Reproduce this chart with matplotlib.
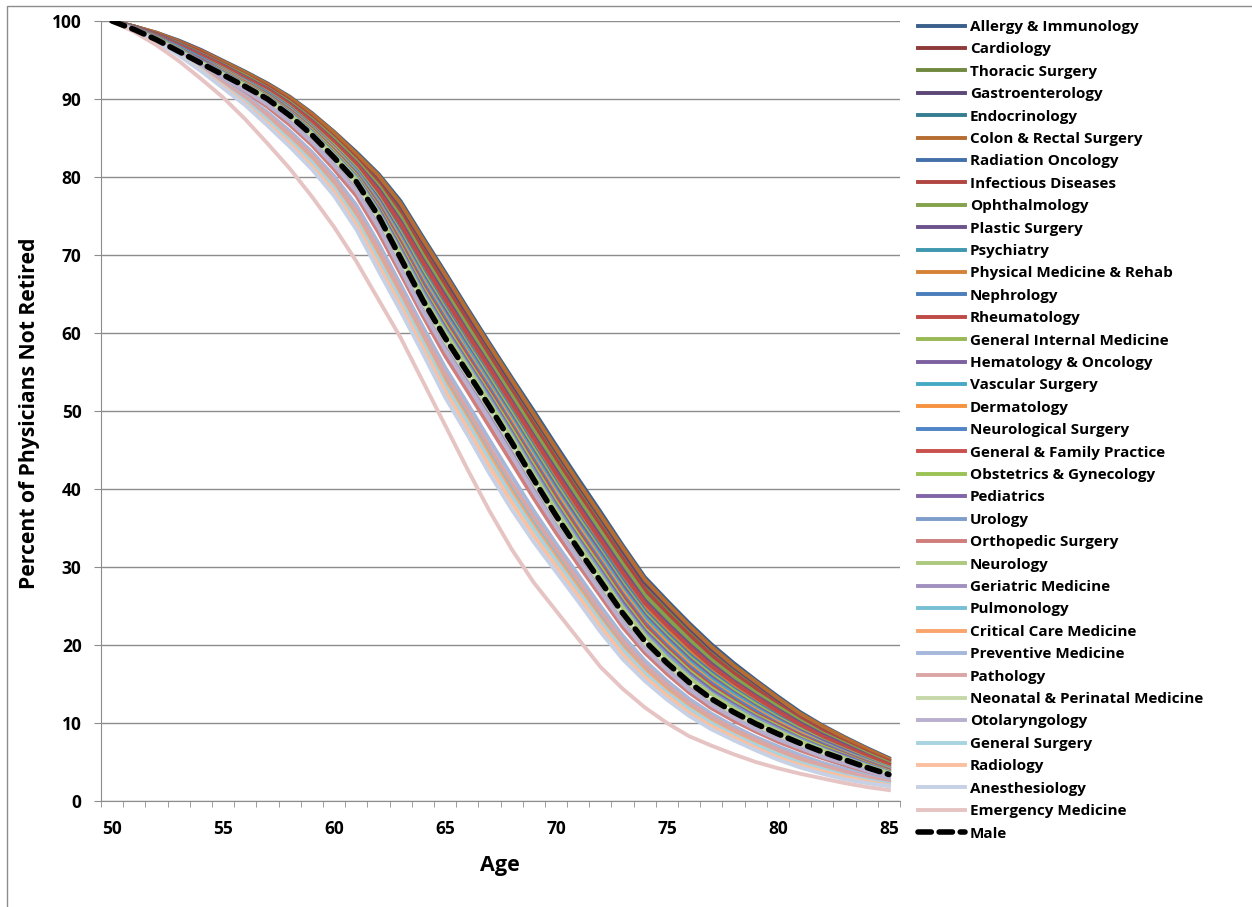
import matplotlib
matplotlib.use('Agg')
import matplotlib.pyplot as plt
from matplotlib.patches import Rectangle

plt.rcParams['font.family'] = ['Open Sans', 'DejaVu Sans']
plt.rcParams['font.weight'] = 'bold'

ages = list(range(50, 86))

# percent not retired, ages 50..85
allergy = [100, 99.3, 98.5, 97.5, 96.3, 94.9, 93.5, 92.0, 90.3, 88.2, 85.8, 83.2, 80.4, 76.9, 72.3, 67.8, 63.2, 58.7, 54.3, 50.0, 45.6, 41.3, 37.1, 32.8, 28.7, 25.7, 22.8, 20.1, 17.7, 15.5, 13.4, 11.4, 9.7, 8.2, 6.8, 5.5]
colon = [100, 99.3, 98.5, 97.4, 96.2, 94.8, 93.4, 91.9, 90.2, 88.1, 85.7, 83.0, 80.2, 76.6, 72.0, 67.5, 62.9, 58.4, 54.0, 49.6, 45.2, 40.9, 36.7, 32.5, 28.4, 25.4, 22.5, 19.8, 17.4, 15.3, 13.2, 11.2, 9.6, 8.1, 6.7, 5.4]
gastro = [100, 99.3, 98.4, 97.4, 96.2, 94.8, 93.3, 91.8, 90.1, 88.0, 85.5, 82.9, 80.0, 76.3, 71.7, 67.1, 62.5, 58.1, 53.6, 49.3, 44.9, 40.6, 36.4, 32.1, 28.0, 25.1, 22.2, 19.5, 17.2, 15.1, 13.0, 11.1, 9.4, 8.0, 6.6, 5.3]
cardiology = [100, 99.3, 98.4, 97.3, 96.1, 94.7, 93.3, 91.8, 90.0, 87.9, 85.4, 82.7, 79.8, 76.0, 71.3, 66.8, 62.2, 57.7, 53.3, 48.9, 44.5, 40.2, 36.0, 31.8, 27.7, 24.7, 21.9, 19.3, 16.9, 14.8, 12.8, 10.9, 9.3, 7.9, 6.5, 5.2]
thoracic = [100, 99.2, 98.4, 97.3, 96.0, 94.6, 93.2, 91.7, 89.9, 87.8, 85.3, 82.6, 79.5, 75.7, 71.0, 66.5, 61.9, 57.4, 53.0, 48.6, 44.2, 39.9, 35.7, 31.4, 27.4, 24.4, 21.6, 19.0, 16.7, 14.6, 12.6, 10.8, 9.2, 7.7, 6.4, 5.2]
infectious = [100, 99.2, 98.3, 97.2, 96.0, 94.5, 93.1, 91.6, 89.8, 87.6, 85.1, 82.4, 79.3, 75.4, 70.7, 66.1, 61.6, 57.1, 52.6, 48.2, 43.8, 39.5, 35.3, 31.1, 27.1, 24.1, 21.3, 18.7, 16.4, 14.4, 12.4, 10.6, 9.0, 7.6, 6.3, 5.1]
radiation = [100, 99.2, 98.3, 97.2, 95.9, 94.5, 93.0, 91.5, 89.7, 87.5, 85.0, 82.3, 79.1, 75.1, 70.4, 65.8, 61.2, 56.8, 52.3, 47.9, 43.4, 39.1, 35.0, 30.7, 26.7, 23.8, 21.0, 18.4, 16.2, 14.2, 12.2, 10.4, 8.9, 7.5, 6.2, 5.0]
ophthalmology = [100, 99.2, 98.2, 97.1, 95.8, 94.4, 93.0, 91.4, 89.6, 87.4, 84.9, 82.1, 78.9, 74.9, 70.0, 65.4, 60.9, 56.4, 52.0, 47.5, 43.1, 38.8, 34.6, 30.4, 26.4, 23.5, 20.7, 18.1, 15.9, 13.9, 12.1, 10.3, 8.7, 7.4, 6.1, 4.9]
endocrinology = [100, 99.2, 98.2, 97.1, 95.8, 94.3, 92.9, 91.4, 89.5, 87.3, 84.7, 82.0, 78.7, 74.6, 69.7, 65.1, 60.6, 56.1, 51.6, 47.2, 42.7, 38.4, 34.3, 30.0, 26.1, 23.1, 20.4, 17.9, 15.7, 13.7, 11.9, 10.1, 8.6, 7.3, 6.0, 4.8]
plastic = [100, 99.2, 98.2, 97.0, 95.7, 94.3, 92.8, 91.3, 89.4, 87.2, 84.6, 81.8, 78.5, 74.3, 69.4, 64.8, 60.2, 55.8, 51.3, 46.8, 42.4, 38.1, 33.9, 29.7, 25.7, 22.8, 20.1, 17.6, 15.4, 13.5, 11.7, 10.0, 8.5, 7.2, 5.9, 4.7]
rheumatology = [100, 99.1, 98.1, 96.9, 95.6, 94.2, 92.7, 91.2, 89.3, 87.1, 84.5, 81.7, 78.2, 74.0, 69.1, 64.4, 59.9, 55.5, 51.0, 46.5, 42.0, 37.7, 33.5, 29.3, 25.4, 22.5, 19.8, 17.3, 15.2, 13.3, 11.5, 9.8, 8.3, 7.0, 5.8, 4.7]
psychiatry = [100, 99.1, 98.1, 96.9, 95.6, 94.1, 92.7, 91.1, 89.2, 87.0, 84.3, 81.5, 78.0, 73.7, 68.7, 64.1, 59.6, 55.1, 50.6, 46.1, 41.6, 37.3, 33.2, 29.0, 25.1, 22.2, 19.5, 17.0, 14.9, 13.0, 11.3, 9.6, 8.2, 6.9, 5.7, 4.6]
pmr = [100, 99.1, 98.1, 96.8, 95.5, 94.0, 92.6, 91.0, 89.1, 86.9, 84.2, 81.4, 77.8, 73.4, 68.4, 63.8, 59.3, 54.8, 50.3, 45.8, 41.3, 37.0, 32.8, 28.6, 24.8, 21.9, 19.2, 16.7, 14.7, 12.8, 11.1, 9.5, 8.1, 6.8, 5.6, 4.5]
nephrology = [100, 99.1, 98.0, 96.8, 95.4, 94.0, 92.5, 91.0, 89.1, 86.7, 84.1, 81.2, 77.6, 73.1, 68.1, 63.4, 58.9, 54.5, 50.0, 45.4, 40.9, 36.6, 32.5, 28.3, 24.4, 21.5, 18.8, 16.5, 14.4, 12.6, 10.9, 9.3, 7.9, 6.7, 5.5, 4.4]
gim = [100, 99.1, 98.0, 96.7, 95.3, 93.9, 92.4, 90.9, 89.0, 86.6, 84.0, 81.1, 77.4, 72.8, 67.8, 63.1, 58.6, 54.2, 49.7, 45.1, 40.6, 36.3, 32.1, 27.9, 24.1, 21.2, 18.5, 16.2, 14.2, 12.4, 10.7, 9.2, 7.8, 6.6, 5.4, 4.3]
hemonc = [100, 99.1, 98.0, 96.7, 95.3, 93.8, 92.4, 90.8, 88.9, 86.5, 83.8, 80.9, 77.2, 72.5, 67.4, 62.8, 58.3, 53.8, 49.3, 44.7, 40.2, 35.9, 31.8, 27.6, 23.8, 20.9, 18.2, 15.9, 13.9, 12.1, 10.5, 9.0, 7.7, 6.5, 5.3, 4.2]
vascular = [100, 99.0, 97.9, 96.6, 95.2, 93.7, 92.3, 90.7, 88.8, 86.4, 83.7, 80.8, 76.9, 72.2, 67.1, 62.4, 58.0, 53.5, 49.0, 44.4, 39.8, 35.5, 31.4, 27.2, 23.5, 20.6, 17.9, 15.6, 13.7, 11.9, 10.3, 8.8, 7.5, 6.3, 5.2, 4.2]
dermatology = [100, 99.0, 97.9, 96.5, 95.1, 93.7, 92.2, 90.6, 88.7, 86.3, 83.6, 80.6, 76.7, 71.9, 66.8, 62.1, 57.6, 53.2, 48.7, 44.0, 39.5, 35.2, 31.0, 26.9, 23.1, 20.3, 17.6, 15.3, 13.4, 11.7, 10.1, 8.7, 7.4, 6.2, 5.1, 4.1]
neurosurgery = [100, 99.0, 97.9, 96.5, 95.1, 93.6, 92.1, 90.6, 88.6, 86.2, 83.4, 80.5, 76.5, 71.6, 66.5, 61.8, 57.3, 52.9, 48.3, 43.7, 39.1, 34.8, 30.7, 26.5, 22.8, 19.9, 17.3, 15.1, 13.2, 11.5, 9.9, 8.5, 7.3, 6.1, 5.0, 4.0]
family = [100, 99.0, 97.8, 96.4, 95.0, 93.5, 92.1, 90.5, 88.5, 86.1, 83.3, 80.3, 76.3, 71.4, 66.1, 61.4, 57.0, 52.5, 48.0, 43.3, 38.8, 34.5, 30.3, 26.2, 22.5, 19.6, 17.0, 14.8, 12.9, 11.2, 9.8, 8.4, 7.1, 6.0, 4.9, 3.9]
obgyn = [100, 99.0, 97.8, 96.4, 94.9, 93.5, 92.0, 90.4, 88.4, 86.0, 83.2, 80.2, 76.1, 71.1, 65.8, 61.1, 56.6, 52.2, 47.7, 43.0, 38.4, 34.1, 30.0, 25.8, 22.1, 19.3, 16.7, 14.5, 12.7, 11.0, 9.6, 8.2, 7.0, 5.9, 4.8, 3.8]
pediatrics = [100, 99.0, 97.7, 96.3, 94.9, 93.4, 91.9, 90.3, 88.3, 85.8, 83.0, 80.0, 75.9, 70.8, 65.5, 60.7, 56.3, 51.9, 47.3, 42.6, 38.0, 33.7, 29.6, 25.5, 21.8, 19.0, 16.4, 14.2, 12.4, 10.8, 9.4, 8.0, 6.8, 5.8, 4.7, 3.7]
urology = [100, 98.9, 97.7, 96.3, 94.8, 93.3, 91.8, 90.2, 88.2, 85.7, 82.9, 79.9, 75.6, 70.5, 65.2, 60.4, 56.0, 51.6, 47.0, 42.3, 37.7, 33.4, 29.3, 25.1, 21.5, 18.7, 16.1, 13.9, 12.2, 10.6, 9.2, 7.9, 6.7, 5.6, 4.6, 3.7]
orthopedic = [100, 98.9, 97.5, 96.0, 94.3, 92.6, 90.9, 89.0, 86.7, 84.1, 81.0, 77.6, 72.9, 67.6, 62.2, 57.1, 52.6, 48.0, 43.4, 38.8, 34.4, 30.3, 26.3, 22.3, 19.0, 16.3, 13.9, 11.9, 10.3, 8.9, 7.6, 6.5, 5.5, 4.6, 3.7, 3.0]
neurology = [100, 98.9, 97.7, 96.2, 94.7, 93.2, 91.8, 90.2, 88.1, 85.6, 82.8, 79.7, 75.4, 70.2, 64.8, 60.1, 55.7, 51.2, 46.7, 41.9, 37.3, 33.0, 28.9, 24.8, 21.2, 18.3, 15.8, 13.7, 11.9, 10.3, 9.0, 7.7, 6.6, 5.5, 4.5, 3.6]
geriatric = [100, 98.9, 97.6, 96.1, 94.5, 92.9, 91.4, 89.7, 87.5, 85.0, 82.0, 78.8, 74.3, 68.9, 63.5, 58.6, 54.2, 49.7, 45.1, 40.4, 35.9, 31.6, 27.6, 23.5, 20.0, 17.2, 14.8, 12.7, 11.0, 9.6, 8.3, 7.1, 6.0, 5.1, 4.1, 3.3]
pulmonology = [100, 98.8, 97.5, 95.8, 93.9, 91.9, 89.9, 87.6, 85.1, 82.3, 79.1, 75.1, 70.1, 64.8, 59.4, 54.1, 49.4, 44.6, 40.0, 35.6, 31.6, 27.6, 23.7, 20.0, 16.9, 14.4, 12.2, 10.4, 8.9, 7.5, 6.3, 5.2, 4.3, 3.6, 2.9, 2.4]
critical_care = [100, 98.8, 97.5, 95.7, 93.9, 91.8, 89.8, 87.5, 84.9, 82.1, 78.8, 74.8, 69.8, 64.5, 59.1, 53.7, 49.0, 44.2, 39.6, 35.2, 31.2, 27.3, 23.3, 19.7, 16.7, 14.2, 12.0, 10.2, 8.7, 7.4, 6.1, 5.1, 4.2, 3.4, 2.8, 2.3]
preventive = [100, 98.9, 97.5, 95.9, 94.1, 92.3, 90.4, 88.3, 85.9, 83.2, 80.1, 76.4, 71.5, 66.2, 60.8, 55.6, 51.0, 46.3, 41.7, 37.2, 33.0, 29.0, 25.0, 21.2, 18.0, 15.4, 13.1, 11.2, 9.6, 8.2, 7.0, 5.9, 4.9, 4.1, 3.3, 2.7]
pathology = [100, 98.8, 97.5, 95.8, 94.0, 92.1, 90.2, 88.0, 85.5, 82.8, 79.6, 75.7, 70.8, 65.5, 60.1, 54.8, 50.2, 45.4, 40.8, 36.4, 32.3, 28.3, 24.3, 20.6, 17.4, 14.9, 12.6, 10.8, 9.2, 7.9, 6.6, 5.5, 4.6, 3.8, 3.1, 2.5]
neonatal = [100, 98.9, 97.6, 96.1, 94.6, 93.0, 91.5, 89.8, 87.7, 85.2, 82.3, 79.1, 74.7, 69.3, 63.9, 59.0, 54.6, 50.2, 45.6, 40.8, 36.2, 32.0, 27.9, 23.8, 20.2, 17.5, 15.0, 12.9, 11.2, 9.7, 8.4, 7.2, 6.2, 5.2, 4.2, 3.3]
otolaryngology = [100, 98.9, 97.6, 96.0, 94.4, 92.8, 91.1, 89.3, 87.1, 84.5, 81.5, 78.2, 73.6, 68.2, 62.8, 57.9, 53.4, 48.9, 44.3, 39.6, 35.2, 31.0, 26.9, 22.9, 19.5, 16.8, 14.3, 12.3, 10.7, 9.2, 7.9, 6.8, 5.7, 4.8, 3.9, 3.1]
general_surgery = [100, 98.8, 97.4, 95.7, 93.8, 91.7, 89.7, 87.3, 84.7, 81.9, 78.6, 74.5, 69.4, 64.2, 58.8, 53.3, 48.6, 43.7, 39.1, 34.8, 30.8, 26.9, 23.0, 19.4, 16.4, 13.9, 11.8, 10.0, 8.5, 7.2, 6.0, 4.9, 4.1, 3.3, 2.7, 2.2]
radiology = [100, 98.8, 97.4, 95.7, 93.7, 91.6, 89.4, 86.9, 84.3, 81.4, 78.1, 73.9, 68.7, 63.5, 58.1, 52.6, 47.8, 42.9, 38.3, 34.0, 30.1, 26.3, 22.4, 18.8, 15.9, 13.5, 11.3, 9.6, 8.2, 6.8, 5.6, 4.6, 3.8, 3.1, 2.5, 2.0]
anesthesiology = [100, 98.8, 97.4, 95.6, 93.6, 91.4, 89.2, 86.6, 83.9, 81.0, 77.6, 73.3, 68.0, 62.8, 57.4, 51.8, 47.0, 42.0, 37.4, 33.2, 29.4, 25.6, 21.7, 18.2, 15.4, 13.0, 10.9, 9.2, 7.8, 6.5, 5.3, 4.3, 3.5, 2.8, 2.3, 1.9]
emergency = [100, 98.6, 96.9, 94.9, 92.6, 90.2, 87.4, 84.3, 81.1, 77.5, 73.6, 69.2, 64.3, 59.4, 53.8, 48.2, 42.6, 37.2, 32.3, 28.0, 24.4, 20.8, 17.2, 14.4, 12.0, 10.0, 8.3, 7.1, 6.0, 5.0, 4.2, 3.5, 2.9, 2.3, 1.8, 1.4]
male = [100, 98.9, 97.6, 96.1, 94.6, 93.1, 91.6, 90.0, 87.9, 85.4, 82.5, 79.4, 75.0, 69.6, 64.2, 59.4, 55.0, 50.6, 46.0, 41.2, 36.6, 32.3, 28.2, 24.1, 20.5, 17.7, 15.2, 13.1, 11.4, 9.9, 8.6, 7.4, 6.3, 5.3, 4.3, 3.4]

specialties = [
    ('Allergy & Immunology', allergy), ('Cardiology', cardiology),
    ('Thoracic Surgery', thoracic), ('Gastroenterology', gastro),
    ('Endocrinology', endocrinology), ('Colon & Rectal Surgery', colon),
    ('Radiation Oncology', radiation), ('Infectious Diseases', infectious),
    ('Ophthalmology', ophthalmology), ('Plastic Surgery', plastic),
    ('Psychiatry', psychiatry), ('Physical Medicine & Rehab', pmr),
    ('Nephrology', nephrology), ('Rheumatology', rheumatology),
    ('General Internal Medicine', gim), ('Hematology & Oncology', hemonc),
    ('Vascular Surgery', vascular), ('Dermatology', dermatology),
    ('Neurological Surgery', neurosurgery), ('General & Family Practice', family),
    ('Obstetrics & Gynecology', obgyn), ('Pediatrics', pediatrics),
    ('Urology', urology), ('Orthopedic Surgery', orthopedic),
    ('Neurology', neurology), ('Geriatric Medicine', geriatric),
    ('Pulmonology', pulmonology), ('Critical Care Medicine', critical_care),
    ('Preventive Medicine', preventive), ('Pathology', pathology),
    ('Neonatal & Perinatal Medicine', neonatal), ('Otolaryngology', otolaryngology),
    ('General Surgery', general_surgery), ('Radiology', radiology),
    ('Anesthesiology', anesthesiology), ('Emergency Medicine', emergency),
]

colors = [
    '#3A5F8B', '#8E3A38', '#71893F', '#5C4776', '#357D91', '#B66D31',
    '#4470AA', '#B14542', '#84A14B', '#6C538C', '#3F98AF', '#D58237',
    '#4A7DBA', '#BE4B48', '#98B954', '#7D60A0', '#46AAC5', '#F69240',
    '#4F84C6', '#C9504D', '#9BC254', '#8165A8', '#7E9DCB', '#CF7E7C',
    '#ADC97F', '#A190BF', '#78BFD3', '#FAA56C', '#A5B8DA', '#DAA6A5',
    '#C6D8AA', '#B9AFCF', '#A8D3E1', '#FBC0A0', '#C6D1E6', '#E6C4C3',
]

W, H = 1252, 907
fig = plt.figure(figsize=(W / 100, H / 100), dpi=100)
ax = fig.add_axes([101 / W, 1 - 801 / H, 799 / W, 780 / H])

for (name, vals), c in zip(specialties, colors):
    ax.plot(ages, vals, color=c, lw=2.8, label=name, solid_joinstyle='round')
ax.plot(ages, male, color='black', lw=4.0, ls=(0, (2.4, 1.4)),
        dash_capstyle='round', label='Male')

ax.set_xlim(49.5, 85.5)
ax.set_ylim(0, 100)
ax.set_yticks(range(0, 101, 10))
ax.yaxis.grid(True, color='#8C8C8C', lw=1)
ax.set_axisbelow(True)
for side in ['top', 'right']:
    ax.spines[side].set_visible(False)
for side in ['left', 'bottom']:
    ax.spines[side].set_color('#8C8C8C')
ax.set_xticks(range(50, 86, 5))
ax.set_xticks([a + 0.5 for a in range(49, 86)], minor=True)
ax.tick_params(axis='x', which='major', length=0, pad=14, labelsize=12.5)
ax.tick_params(axis='x', which='minor', length=4.5, color='#8C8C8C')
ax.tick_params(axis='y', length=5, color='#8C8C8C', pad=9, labelsize=12.5)

fig.text(30 / W, 1 - 413 / H, 'Percent of Physicians Not Retired', rotation=90,
         ha='center', va='center', fontsize=15.2, fontweight='bold')
fig.text(500 / W, 1 - 866 / H, 'Age', ha='center', va='center',
         fontsize=15.5, fontweight='bold')

fig.legend(loc='upper left', bbox_to_anchor=(918 / W, 1 - 20 / H), frameon=False,
           fontsize=11, handlelength=3.1, handletextpad=0.3, labelspacing=0.55,
           borderaxespad=0, borderpad=0)

# chart area border
fig.patches.append(Rectangle((7 / W, -0.1), 1.1, 1.1 - 6 / H, transform=fig.transFigure,
                             fill=False, edgecolor='#8C8C8C', lw=1))

fig.savefig('out.png', dpi=100)
